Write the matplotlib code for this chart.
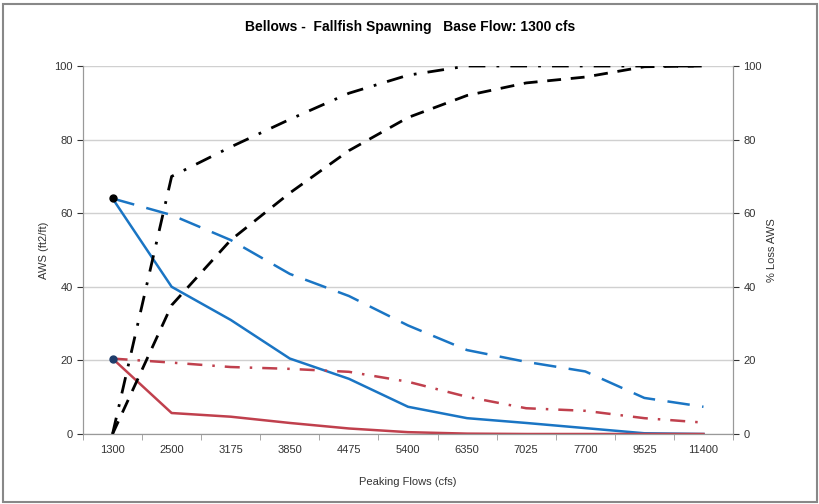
import matplotlib
matplotlib.use('Agg')
import numpy as np
import matplotlib.pyplot as plt

plt.rcParams['font.family'] = ['Liberation Sans', 'DejaVu Sans']

# data
flows = ['1300', '2500', '3175', '3850', '4475', '5400', '6350', '7025', '7700', '9525', '11400']
aws_blue = [64, 40, 31, 20.5, 15, 7.4, 4.3, 3, 1.6, 0.2, 0]
aws_blue_dash = [64, 59.5, 52.7, 43.5, 37.5, 29.5, 22.8, 19.6, 17, 9.8, 7.4]
aws_red = [20.5, 5.7, 4.7, 3, 1.5, 0.5, 0.1, 0, 0, 0, 0]
aws_red_dashdot = [20.5, 19.4, 18.2, 17.7, 16.9, 14.2, 10.1, 7, 6.3, 4.3, 3.1]
loss_dashdot = [0, 70, 78, 85.5, 92.6, 97.5, 100, 100, 100, 100, 100]
loss_dash = [0, 35, 52.7, 65.5, 77, 86, 92, 95.4, 97, 99.8, 100]

blue = '#1a75c4'
red = '#c0404d'

fig = plt.figure(figsize=(8.2, 5.04), dpi=100)
ax = fig.add_axes([83/820, 1-434/504, 650/820, 368/504])
ax2 = ax.twinx()
x = np.arange(len(flows))

ax.plot(x, aws_blue, color=blue, lw=1.8)
ax.plot(x, aws_blue_dash, color=blue, lw=1.8, dashes=(9, 5))
ax.plot(x, aws_red, color=red, lw=1.8)
ax.plot(x, aws_red_dashdot, color=red, lw=1.8, dashes=(6, 4, 1, 4))
ax.plot(x[:1], aws_blue[:1], 'o', color='black', ms=5, zorder=5)
ax.plot(x[:1], aws_red[:1], 'o', color='#1f3d6b', ms=5, zorder=5)

ax2.plot(x, loss_dashdot, color='black', lw=2, dashes=(6, 4, 1, 4))
ax2.plot(x, loss_dash, color='black', lw=2, dashes=(5, 3.5))

for a in (ax, ax2):
    a.set_ylim(0, 100)
    a.set_yticks(range(0, 101, 20))
    a.tick_params(labelsize=8, colors='#333333', length=4)
    for s in a.spines.values():
        s.set_color('#999999')
ax.set_xlim(-0.5, len(flows) - 0.5)
ax.set_xticks(x)
ax.set_xticklabels(flows)
ax.set_xticks(np.arange(-0.5, len(flows)), minor=True)
ax.tick_params(axis='x', which='major', length=0, pad=8)
ax.tick_params(axis='x', which='minor', length=4, color='#999999')
ax.grid(axis='y', color='#d0d0d0', lw=1)
ax.set_axisbelow(True)
ax.spines['top'].set_visible(False)
ax2.spines['top'].set_visible(False)

ax.set_ylabel('AWS (ft2/ft)', fontsize=8, color='#333333', labelpad=4)
ax2.set_ylabel('% Loss AWS', fontsize=8, color='#333333', labelpad=4)
ax.set_xlabel('Peaking Flows (cfs)', fontsize=8, color='#333333', labelpad=16)
fig.suptitle('Bellows -  Fallfish Spawning   Base Flow: 1300 cfs', y=0.96,
             fontsize=10, fontweight='bold')

fig.patches.append(plt.Rectangle((0.004, 0.004), 0.992, 0.988, transform=fig.transFigure,
                                 fill=False, edgecolor='#888888', lw=1.5))

fig.savefig('out.png', dpi=100)
